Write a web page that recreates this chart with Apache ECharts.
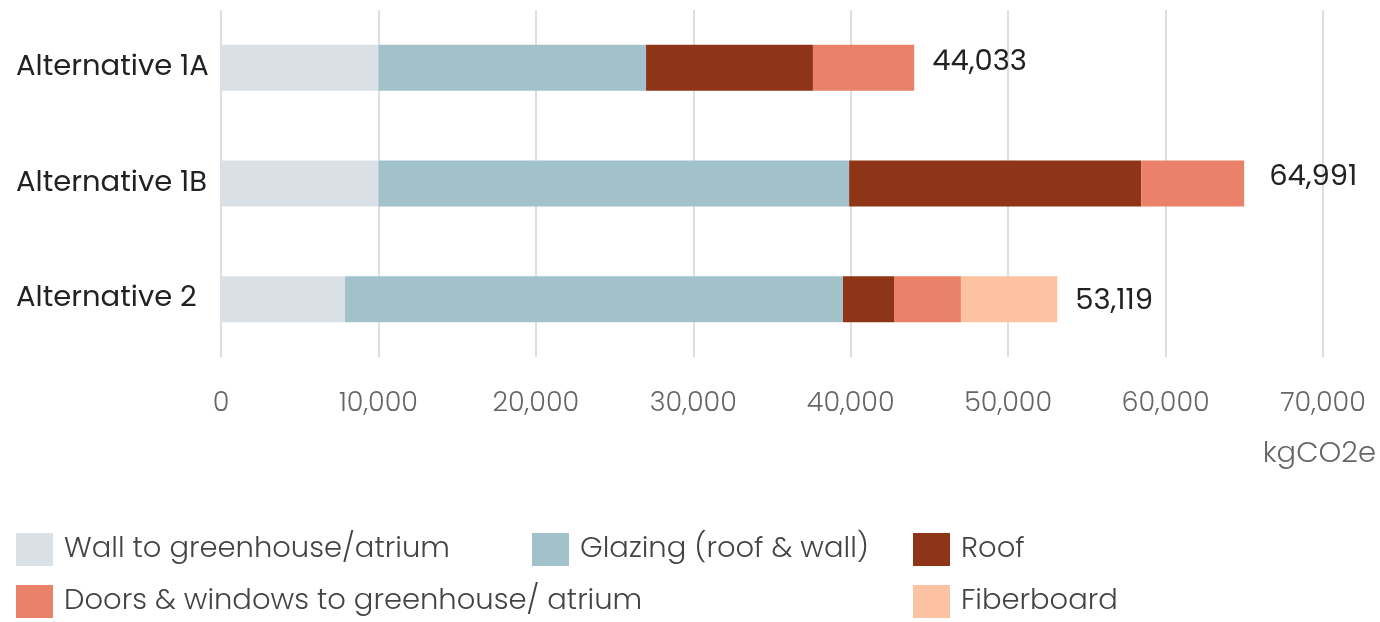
<!DOCTYPE html>
<html>
<head>
<meta charset="utf-8">
<script src="https://cdn.jsdelivr.net/npm/echarts@6/dist/echarts.min.js"></script>
<style>
  html, body { margin: 0; padding: 0; background: #fff; }
  #chart { width: 1380px; height: 622px; }
</style>
</head>
<body>
<div id="chart"></div>
<script>
// categories (top to bottom as drawn)
const categories = ['Alternative 1A', 'Alternative 1B', 'Alternative 2']
const seriesNames = [
  'Wall to greenhouse/atrium',
  'Glazing (roof & wall)',
  'Roof',
  'Doors & windows to greenhouse/ atrium',
  'Fiberboard'
]
// segment values, kgCO2e
const wallValues = [10000, 10000, 7880]
const glazingValues = [17000, 29900, 31630]
const roofValues = [10600, 18550, 3240]
const doorsValues = [6433, 6541, 4250]
const fiberboardValues = [0, 0, 6119]
const totals = [44033, 64991, 53119]
const xTicks = [0, 10000, 20000, 30000, 40000, 50000, 60000, 70000]

const colors = ['#d9e1e7', '#a2c2cb', '#8e3518', '#e98268', '#fdc2a2']
const font = 'Poppins, Inter, Lato, sans-serif'

const chart = echarts.init(document.getElementById('chart'))

const fmt = (v) => v.toLocaleString('en-US')

// label offsets per row, just to sit like the original
const labelOffsets = [[18, -5], [25, -6], [18, 3]]

const valueLists = [wallValues, glazingValues, roofValues, doorsValues, fiberboardValues]
const series = valueLists.map((vals, i) => ({
  name: seriesNames[i],
  type: 'bar',
  stack: 'total',
  barWidth: 46,
  itemStyle: { color: colors[i] },
  data: vals.map((v, j) => {
    if (i !== valueLists.length - 1) return v
    return {
      value: v,
      label: {
        show: true,
        position: 'right',
        distance: 0,
        offset: labelOffsets[j],
        formatter: () => fmt(totals[j]),
        fontFamily: font,
        fontSize: 29,
        color: '#222'
      }
    }
  })
}))

// one legend per item, laid out in two rows like the source
const legendPos = [
  { left: 16, top: 533 },
  { left: 532, top: 533 },
  { left: 913, top: 533 },
  { left: 16, top: 585 },
  { left: 913, top: 585 }
]
const legends = seriesNames.map((n, i) => ({
  data: [n],
  left: legendPos[i].left,
  top: legendPos[i].top,
  padding: 0,
  itemWidth: 37,
  itemHeight: 33,
  icon: 'rect',
  selectedMode: false,
  textStyle: {
    fontFamily: font,
    fontSize: 29,
    fontWeight: 300,
    color: '#444',
    padding: [0, 0, 0, 6]
  }
}))

const option = {
  animation: false,
  color: colors,
  grid: { left: 221, right: 57, top: 10, bottom: 265, containLabel: false },
  legend: legends,
  xAxis: {
    type: 'value',
    min: 0,
    max: 70000,
    interval: 10000,
    axisLine: { show: false },
    axisTick: { show: false },
    splitLine: { lineStyle: { color: '#dedede', width: 2 } },
    axisLabel: {
      margin: 34,
      fontFamily: font,
      fontSize: 27,
      fontWeight: 300,
      color: '#666',
      formatter: (v) => fmt(v)
    }
  },
  yAxis: {
    type: 'category',
    inverse: true,
    data: categories,
    axisLine: { show: false },
    axisTick: { show: false },
    axisLabel: {
      align: 'left',
      margin: 205,
      fontFamily: font,
      fontSize: 29,
      color: '#222'
    }
  },
  graphic: [{
    type: 'text',
    right: 4,
    top: 440,
    style: {
      text: 'kgCO2e',
      font: '300 29px ' + font,
      fill: '#666'
    }
  }],
  series: series
}

chart.setOption(option)
</script>
</body>
</html>
